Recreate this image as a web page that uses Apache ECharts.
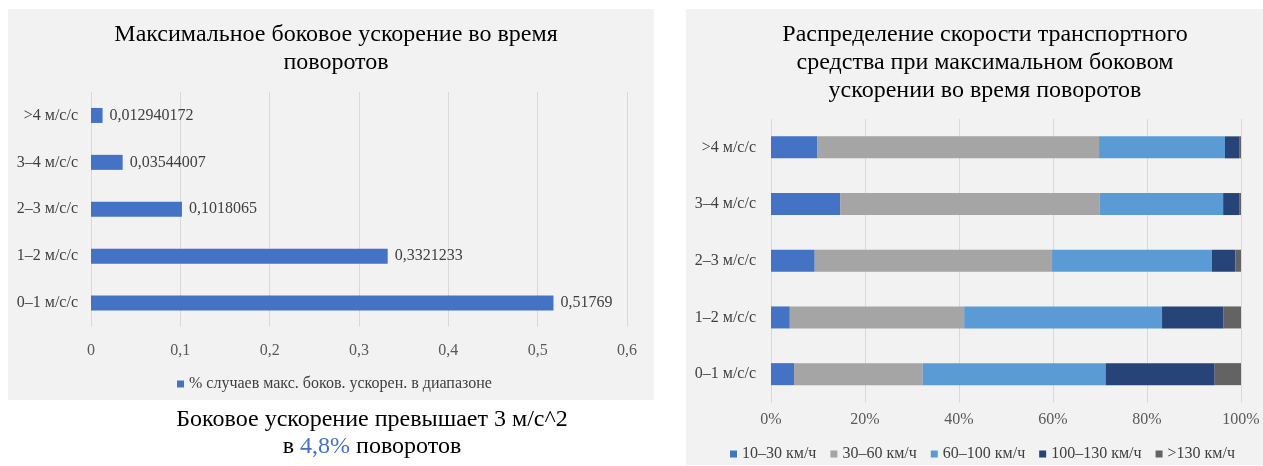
<!DOCTYPE html>
<html><head><meta charset="utf-8">
<script src="https://cdn.jsdelivr.net/npm/echarts@6/dist/echarts.min.js"></script>
<style>html,body{margin:0;padding:0;background:#fff}#c{width:1263px;height:466px}</style>
</head><body><div id="c"></div>
<script>
// Left chart data
const accelCategories = ['0–1 м/с/с', '1–2 м/с/с', '2–3 м/с/с', '3–4 м/с/с', '>4 м/с/с'];
const accelShare = [0.51769, 0.3321233, 0.1018065, 0.03544007, 0.012940172];
const accelSeriesName = '% случаев макс. боков. ускорен. в диапазоне';
const accelTicks = ['0', '0,1', '0,2', '0,3', '0,4', '0,5', '0,6'];

// Right chart data (percent of turns in each speed band, per acceleration category)
const speedBands = ['10–30 км/ч', '30–60 км/ч', '60–100 км/ч', '100–130 км/ч', '>130 км/ч'];
const speed10_30 = [4.9, 4.0, 9.3, 14.7, 9.8];
const speed30_60 = [27.4, 37.1, 50.5, 55.2, 60.0];
const speed60_100 = [38.9, 42.1, 34.0, 26.3, 26.8];
const speed100_130 = [23.2, 13.1, 5.0, 3.4, 3.0];
const speed130plus = [5.6, 3.7, 1.2, 0.4, 0.4];
const speedColors = ['#4472c4', '#a5a5a5', '#5b9bd5', '#264478', '#636363'];

const FONT = '"Liberation Serif", "Times New Roman", serif';
const SMALL = 16;
const chart = echarts.init(document.getElementById('c'));
const speedData = [speed10_30, speed30_60, speed60_100, speed100_130, speed130plus];

chart.setOption({
  animation: false,
  textStyle: { fontFamily: FONT },
  graphic: [
    { type: 'rect', z: -10, shape: { x: 8, y: 9, width: 646, height: 391 }, style: { fill: '#f2f2f2' } },
    { type: 'rect', z: -10, shape: { x: 686, y: 9, width: 577, height: 456 }, style: { fill: '#f2f2f2' } },
    { type: 'text', x: 372, y: 420, style: { text: 'Боковое ускорение превышает 3 м/с^2', font: '24px ' + FONT, fill: '#000', align: 'center', verticalAlign: 'middle' } },
    { type: 'text', x: 372, y: 447, style: {
      rich: { a: { font: '24px ' + FONT, fill: '#000' }, b: { font: '24px ' + FONT, fill: '#4472c4' } },
      text: '{a|в }{b|4,8%}{a| поворотов}', align: 'center', verticalAlign: 'middle' } }
  ],
  title: [
    { text: 'Максимальное боковое ускорение во время\nповоротов', left: 331, textAlign: 'center', top: 16,
      textStyle: { fontFamily: FONT, fontSize: 24, fontWeight: 'normal', color: '#000', lineHeight: 28 } },
    { text: 'Распределение скорости транспортного\nсредства при максимальном боковом\nускорении во время поворотов', left: 980, textAlign: 'center', top: 16,
      textStyle: { fontFamily: FONT, fontSize: 24, fontWeight: 'normal', color: '#000', lineHeight: 28 } }
  ],
  legend: [
    { data: [accelSeriesName], left: 172, top: 371, itemWidth: 7, itemHeight: 7, itemGap: 8,
      textStyle: { fontFamily: FONT, fontSize: SMALL, color: '#404040' }, icon: 'rect' },
    { data: speedBands, top: 441, left: 725, itemWidth: 7, itemHeight: 7, itemGap: 14, icon: 'rect',
      textStyle: { fontFamily: FONT, fontSize: SMALL, color: '#404040' } }
  ],
  grid: [
    { left: 91, right: 1263 - 627, top: 92, bottom: 466 - 326.5 },
    { left: 771, right: 1263 - 1241, top: 119, bottom: 466 - 402.5 }
  ],
  xAxis: [
    { gridIndex: 0, type: 'value', min: 0, max: 0.6, interval: 0.1,
      axisLine: { show: false }, axisTick: { show: false },
      splitLine: { lineStyle: { color: '#d9d9d9' } },
      axisLabel: { fontFamily: FONT, fontSize: SMALL, color: '#595959', margin: 16,
        formatter: (v) => accelTicks[Math.round(v * 10)] } },
    { gridIndex: 1, type: 'value', min: 0, max: 100, interval: 20,
      axisLine: { show: false }, axisTick: { show: false },
      splitLine: { lineStyle: { color: '#d9d9d9' } },
      axisLabel: { fontFamily: FONT, fontSize: SMALL, color: '#595959', margin: 9, formatter: '{value}%' } }
  ],
  yAxis: [
    { gridIndex: 0, type: 'category', data: accelCategories,
      axisLine: { show: false }, axisTick: { show: false },
      axisLabel: { fontFamily: FONT, fontSize: SMALL, color: '#404040', margin: 13 } },
    { gridIndex: 1, type: 'category', data: accelCategories,
      axisLine: { show: false }, axisTick: { show: false },
      axisLabel: { fontFamily: FONT, fontSize: SMALL, color: '#404040', margin: 15 } }
  ],
  series: [
    { name: accelSeriesName, type: 'bar', xAxisIndex: 0, yAxisIndex: 0, data: accelShare, barWidth: 15,
      itemStyle: { color: '#4472c4' },
      label: { show: true, position: 'right', distance: 7, fontFamily: FONT, fontSize: SMALL, color: '#404040',
        formatter: p => String(p.value).replace('.', ',') } }
  ].concat(speedBands.map((name, i) => ({
    name, type: 'bar', stack: 'speed', xAxisIndex: 1, yAxisIndex: 1, data: speedData[i], barWidth: 22,
    itemStyle: { color: speedColors[i] }
  })))
});
</script></body></html>
